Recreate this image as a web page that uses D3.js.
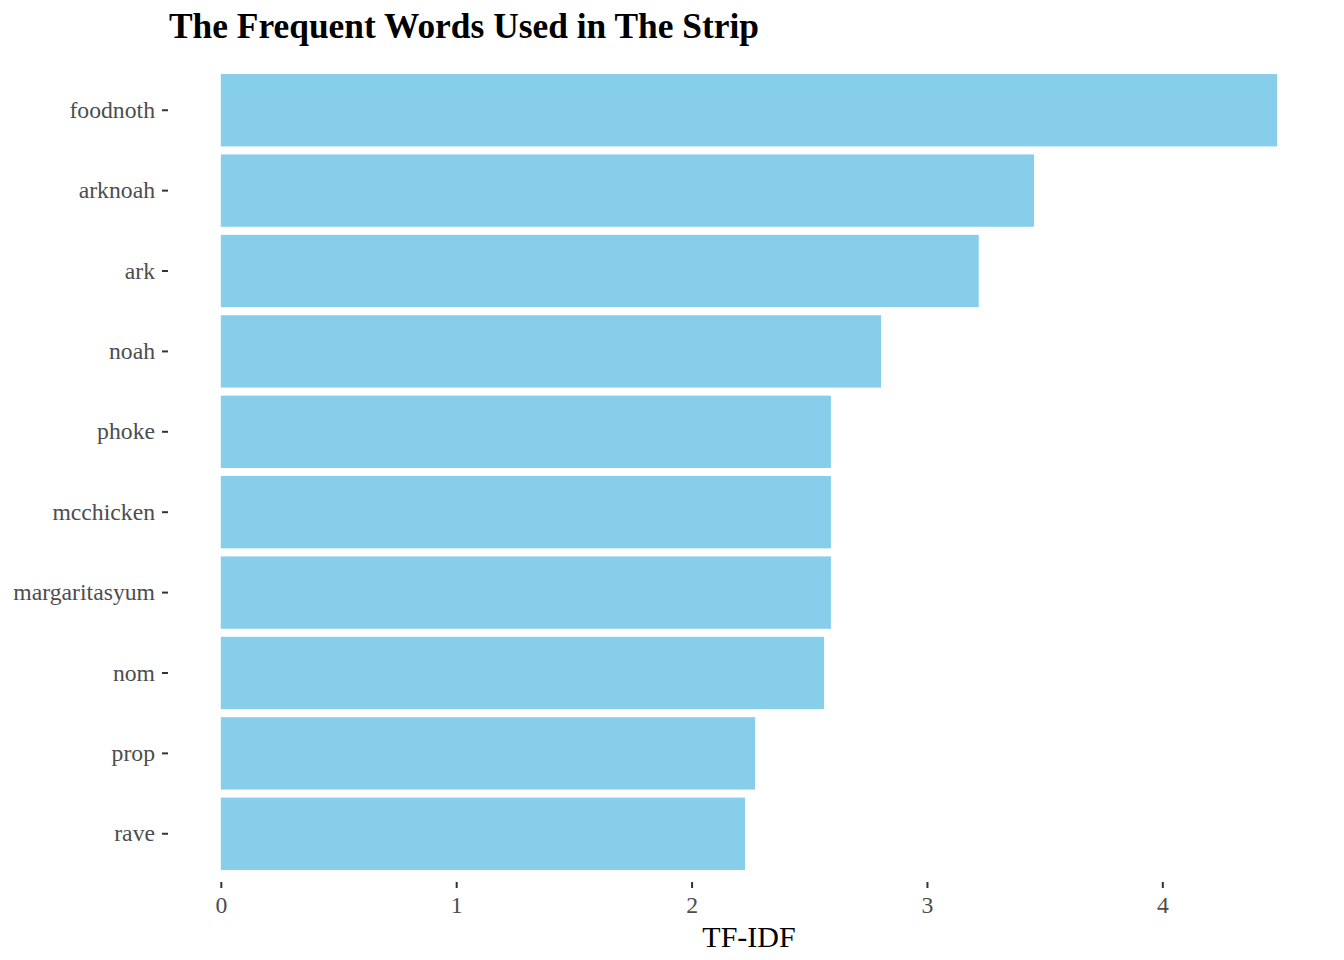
<!DOCTYPE html>
<html>
<head>
<meta charset="utf-8">
<title>tf-idf bars</title>
<script src="https://cdn.jsdelivr.net/npm/d3@7"></script>
<style>
  body { margin: 0; background: #fff; }
  svg { font-family: "Liberation Serif", "DejaVu Serif", serif; }
  .axis path { display: none; }
  .axis line { stroke: #333333; stroke-width: 2px; }
  .axis text { fill: #4d4d4d; font-size: 23.7px; font-family: "Liberation Serif", serif; }
  .title { font-size: 35.4px; font-weight: bold; fill: #000; }
  .xlab { font-size: 30px; fill: #000; }
</style>
</head>
<body>
<svg width="1344" height="960"></svg>
<script>
// words top to bottom, as in the picture
var words = ["foodnoth", "arknoah", "ark", "noah", "phoke", "mcchicken",
             "margaritasyum", "nom", "prop", "rave"];
var tfidf = [4.488, 3.455, 3.22, 2.805, 2.592, 2.592, 2.592, 2.563, 2.27, 2.227];
var xTicks = [0, 1, 2, 3, 4];

var svg = d3.select("svg"),
    panel = {left: 168, right: 1330, top: 62, bottom: 882};

var data = words.map(function(w, i) { return {word: w, value: tfidf[i]}; });

// ggplot style 5% expansion on the continuous axis
var maxV = d3.max(tfidf), pad = maxV * 0.05;
var x = d3.scaleLinear()
    .domain([-pad, maxV + pad])
    .range([panel.left, panel.right]);

var y = d3.scaleBand()
    .domain(words)
    .range([panel.top, panel.bottom])
    .paddingInner(0.1)
    .paddingOuter(0.15);

svg.append("g")
    .selectAll("rect")
    .data(data)
    .enter()
    .append("rect")
    .attr("x", x(0))
    .attr("y", function(d) { return y(d.word); })
    .attr("width", function(d) { return x(d.value) - x(0); })
    .attr("height", y.bandwidth())
    .attr("fill", "#87ceeb");

var yAxis = svg.append("g")
    .attr("class", "axis")
    .attr("transform", "translate(" + panel.left + ",0)")
    .call(d3.axisLeft(y).tickSize(6).tickPadding(7));
yAxis.selectAll("text").attr("dy", "0.32em");

svg.append("g")
    .attr("class", "axis")
    .attr("transform", "translate(0," + panel.bottom + ")")
    .call(d3.axisBottom(x).tickValues(xTicks).tickFormat(d3.format("d")).tickSize(6).tickPadding(8));

svg.append("text")
    .attr("class", "xlab")
    .attr("x", (panel.left + panel.right) / 2)
    .attr("y", 947)
    .attr("text-anchor", "middle")
    .text("TF-IDF");

svg.append("text")
    .attr("class", "title")
    .attr("x", 169)
    .attr("y", 38)
    .text("The Frequent Words Used in The Strip");
</script>
</body>
</html>
